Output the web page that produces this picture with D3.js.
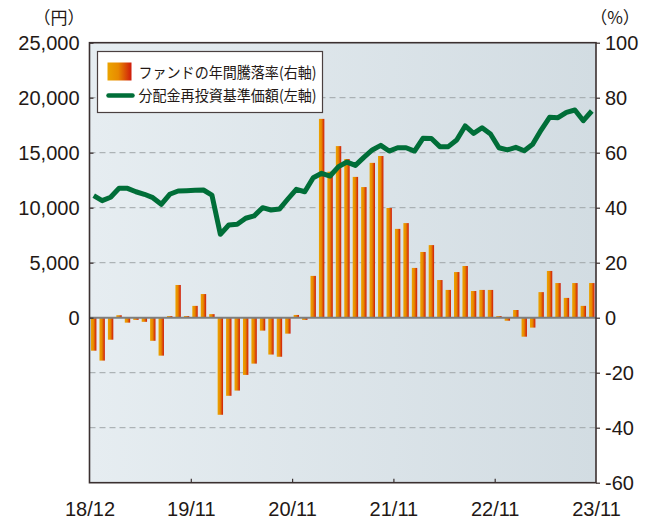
<!DOCTYPE html>
<html>
<head>
<meta charset="utf-8">
<script src="https://cdn.jsdelivr.net/npm/d3@7"></script>
<style>
  body { margin: 0; background: #fff; }
  svg text { font-family: "Liberation Sans", "Noto Sans CJK JP", sans-serif; fill: #231815; }
</style>
</head>
<body>
<div id="vis"></div>
<script>
// annual return of the fund (%), right axis, months 18/12 .. 23/11
const returns = [
  -12.0, -15.6, -8.0, 0.9, -1.8, -0.8, -1.5, -8.4, -13.8, 0.6,
  11.9, 0.6, 4.3, 8.6, 1.3, -35.3, -28.4, -26.5, -20.8, -16.7,
  -4.7, -13.4, -14.2, -5.8, 1.0, -0.8, 15.2, 72.3, 53.1, 62.4,
  57.7, 51.2, 47.5, 56.3, 58.8, 39.9, 32.3, 34.4, 18.1, 23.9,
  26.4, 13.7, 10.1, 16.6, 18.8, 9.7, 10.1, 10.1, 0.6, -1.1,
  2.8, -6.9, -3.6, 9.3, 17.0, 12.6, 7.2, 12.6, 4.3, 12.6
];
// NAV with dividends reinvested (yen), left axis
const nav = [
  11090, 10640, 10950, 11760, 11760, 11450, 11220, 10910, 10310, 11220,
  11520, 11550, 11580, 11610, 11150, 7580, 8430, 8490, 9040, 9250,
  10000, 9790, 9880, 10790, 11670, 11450, 12730, 13130, 12880, 13730,
  14150, 13850, 14580, 15250, 15670, 15150, 15450, 15450, 15150, 16310,
  16290, 15550, 15550, 16150, 17430, 16760, 17270, 16700, 15450, 15250,
  15490, 15180, 15760, 17060, 18220, 18180, 18670, 18880, 17910, 18790
];
const xLabels = ["18/12", "19/11", "20/11", "21/11", "22/11", "23/11"];
const leftTicks = [0, 5000, 10000, 15000, 20000, 25000];
const rightTicks = [-60, -40, -20, 0, 20, 40, 60, 80, 100];
const legendLabels = ["ファンドの年間騰落率(右軸)", "分配金再投資基準価額(左軸)"];

const width = 646, height = 521;
const margin = {left: 89.5, right: 50, top: 42.7, bottom: 38.3};

const svg = d3.select("#vis").append("svg")
  .attr("width", width).attr("height", height)
  .attr("viewBox", [0, 0, width, height]);

const defs = svg.append("defs");
const bg = defs.append("linearGradient").attr("id", "bg");
bg.append("stop").attr("offset", "0%").attr("stop-color", "#e6edf1");
bg.append("stop").attr("offset", "100%").attr("stop-color", "#d2dce2");
const barGrad = defs.append("linearGradient").attr("id", "bar");
barGrad.append("stop").attr("offset", "0%").attr("stop-color", "#eba400");
barGrad.append("stop").attr("offset", "45%").attr("stop-color", "#e88a00");
barGrad.append("stop").attr("offset", "100%").attr("stop-color", "#cf1a0c");

const n = returns.length;
const x = d3.scaleLinear().domain([0, n]).range([margin.left, width - margin.right]);
const yR = d3.scaleLinear().domain([-60, 100]).range([height - margin.bottom, margin.top]);
const yL = d3.scaleLinear().domain([-15000, 25000]).range([height - margin.bottom, margin.top]);

// plot background
svg.append("rect")
  .attr("x", x(0)).attr("y", yR(100))
  .attr("width", x(n) - x(0)).attr("height", yR(-60) - yR(100))
  .attr("fill", "url(#bg)");

// grid lines
svg.append("g").selectAll("line")
  .data(rightTicks.filter(d => d !== 0 && d !== 100 && d !== -60))
  .join("line")
  .attr("x1", x(0)).attr("x2", x(n))
  .attr("y1", d => yR(d)).attr("y2", d => yR(d))
  .attr("stroke", "#9fa5a8").attr("stroke-width", 1)
  .attr("stroke-dasharray", "6,4");

// bars
const bw = 5.4;
svg.append("g").selectAll("rect")
  .data(returns)
  .join("rect")
  .attr("x", (d, i) => x(i + 0.5) - bw / 2)
  .attr("width", bw)
  .attr("y", d => yR(Math.max(0, d)))
  .attr("height", d => Math.abs(yR(d) - yR(0)))
  .attr("fill", "url(#bar)");

// zero line
svg.append("line")
  .attr("x1", x(0)).attr("x2", x(n))
  .attr("y1", yR(0)).attr("y2", yR(0))
  .attr("stroke", "#7d7f80").attr("stroke-width", 2);

// NAV line
svg.append("path")
  .datum(nav)
  .attr("fill", "none")
  .attr("stroke", "#006e38")
  .attr("stroke-width", 5)
  .attr("stroke-linejoin", "round")
  .attr("d", d3.line().x((d, i) => x(i + 0.5)).y(d => yL(d)));

// frame
svg.append("rect")
  .attr("x", x(0)).attr("y", yR(100))
  .attr("width", x(n) - x(0)).attr("height", yR(-60) - yR(100))
  .attr("fill", "none").attr("stroke", "#3b3030").attr("stroke-width", 1.6);

// axes
const leftAxis = svg.append("g")
  .attr("transform", `translate(${x(0)},0)`)
  .call(d3.axisLeft(yL).tickValues(leftTicks).tickSize(-4).tickPadding(10)
    .tickFormat(d3.format(",")));
const rightAxis = svg.append("g")
  .attr("transform", `translate(${x(n)},0)`)
  .call(d3.axisRight(yR).tickValues(rightTicks).tickSize(4).tickPadding(6)
    .tickFormat(d => String(d)));
const bottomAxis = svg.append("g")
  .attr("transform", `translate(0,${yR(-60)})`)
  .call(d3.axisBottom(x).tickValues(xLabels.map((d, i) => i * 12))
    .tickSize(-4).tickPadding(19).tickFormat((d, i) => xLabels[i]));

[leftAxis, rightAxis, bottomAxis].forEach(a => {
  a.select(".domain").remove();
  a.selectAll(".tick line").attr("stroke", "#3b3030").attr("stroke-width", 1.2);
  a.selectAll("text").style("font-size", "20px").style("fill", "#231815");
});
leftAxis.selectAll("text").attr("dy", "0.36em").attr("x", -10);
rightAxis.selectAll("text").attr("dy", "0.36em").attr("x", 9);
bottomAxis.selectAll(".tick line").filter((d, i) => i === 0 || i === xLabels.length - 1).remove();

// unit labels
svg.append("text").attr("x", 59).attr("y", 24).attr("text-anchor", "middle")
  .style("font-size", "17px").style("font-family", "Noto Sans CJK JP").text("（円）");
svg.append("text").attr("x", 615).attr("y", 24).attr("text-anchor", "middle")
  .style("font-size", "17px").style("font-family", "Noto Sans CJK JP").text("（%）");

// legend
const lg = svg.append("g").attr("transform", "translate(97.5,51.5)");
lg.append("rect").attr("width", 225).attr("height", 61)
  .attr("fill", "#fff").attr("stroke", "#4a4040").attr("stroke-width", 1.2);
lg.append("rect").attr("x", 10).attr("y", 11).attr("width", 24).attr("height", 18)
  .attr("fill", "url(#bar)");
lg.append("line").attr("x1", 11).attr("x2", 35).attr("y1", 44).attr("y2", 44)
  .attr("stroke", "#006e38").attr("stroke-width", 4.5).attr("stroke-linecap", "round");
lg.selectAll("text.lab")
  .data(legendLabels)
  .join("text")
  .attr("class", "lab")
  .attr("x", 41).attr("y", (d, i) => 26 + i * 23)
  .style("font-size", "15px")
  .style("font-family", "Noto Sans CJK JP")
  .attr("textLength", 178)
  .attr("lengthAdjust", "spacingAndGlyphs")
  .text(d => d);
</script>
</body>
</html>
